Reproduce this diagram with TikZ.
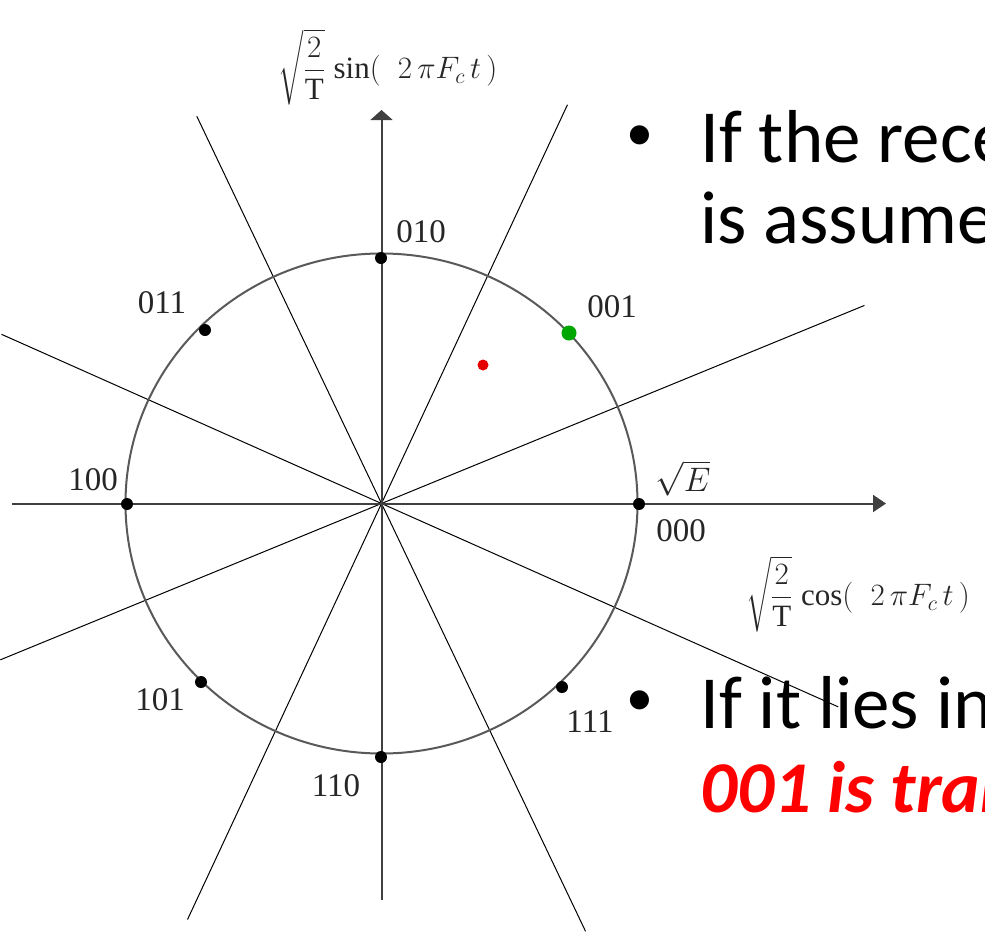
\RequirePackage{fix-cm}
\documentclass[tikz,border=0pt]{standalone}
\usepackage{fontspec}
\setmainfont{Carlito}
\newfontfamily\tnr{Liberation Serif}
\usepackage{amsmath}
\usetikzlibrary{positioning}
\usetikzlibrary{arrows.meta}

\tikzset{
    sym/.style={circle, fill=black, inner sep=0pt, minimum size=12pt},
    lbl/.style={font=\tnr\fontsize{33}{38}\selectfont, text=black!85, inner sep=0pt},
    bnd/.style={line width=1pt},
    axis/.style={line width=2pt, draw=black!75},
    bul/.style={font=\fontsize{75}{80}\selectfont, anchor=base west, inner sep=0pt},
    dotb/.style={font=\fontsize{54}{60}\selectfont, inner sep=0pt},
}

\begin{document}
\begin{tikzpicture}[x=1pt, y=-1pt]
    \useasboundingbox (0,0) rectangle (985,945);
    \clip (0,0) rectangle (985,945);

    \coordinate (o) at (381.5,503.5);

    % decision boundaries
    \path (o) ++(-65:440) coordinate (b1a)  (o) ++(115:459) coordinate (b1b);
    \path (o) ++(-115.5:429) coordinate (b2a)  (o) ++(64.5:474) coordinate (b2b);
    \path (o) ++(-22.3:522) coordinate (b3a)  (o) ++(157.7:412) coordinate (b3b);
    \path (o) ++(-156:416) coordinate (b4a)  (o) ++(24:500) coordinate (b4b);
    \draw[bnd] (b1a) -- (b1b);
    \draw[bnd] (b2a) -- (b2b);
    \draw[bnd] (b3a) -- (b3b);
    \draw[bnd] (b4a) -- (b4b);

    % axes
    \coordinate (xl) at (12,503.5);
    \coordinate (xr) at (886,503.5);
    \coordinate (yb) at (381.5,900);
    \coordinate (yt) at (381.5,110);
    \draw[axis, -{Triangle[length=13pt,width=17pt]}] (xl) -- (xr);
    \draw[axis, -{Triangle[length=10pt,width=22pt]}] (yb) -- (yt);
    \draw[line width=2pt, black!65] (o) ellipse [x radius=256pt, y radius=250pt];

    % signal points
    \node[sym] (s000) at (639,504) {};
    \node[sym] (s010) at (381,258) {};
    \node[sym] (s011) at (205,330) {};
    \node[sym] (s100) at (127,504) {};
    \node[sym] (s101) at (201,682) {};
    \node[sym] (s110) at (381,757) {};
    \node[sym] (s111) at (562,687) {};
    \node[sym, fill=green!65!black, minimum size=15pt] (s001) at (569,333) {};
    \node[sym, fill=red!90!black, minimum size=11pt] (rx) at (483,365) {};

    \node[lbl] (l010) at (421,232) {010};
    \node[lbl] (l011) at (162,303) {011};
    \node[lbl] (l001) at (612,307) {001};
    \node[lbl] (l100) at (93,480) {100};
    \node[lbl] (l000) at (681,531) {000};
    \node[lbl] (l101) at (160,700) {101};
    \node[lbl] (l111) at (590,722) {111};
    \node[lbl] (l110) at (336,786) {110};
    \node[lbl, font=\fontsize{34}{38}\selectfont] (le) at (683,478) {$\sqrt{E}$};

    \node[lbl, font=\fontsize{31}{36}\selectfont] (ysig) at (388,67)
        {$\sqrt{\dfrac{2}{\text{\tnr T}}}\;\text{\tnr sin}(\;\;2\,\pi F_c\, t\,)$};
    \node[lbl, font=\fontsize{31}{36}\selectfont] (xsig) at (858,594)
        {$\sqrt{\dfrac{2}{\text{\tnr T}}}\;\text{\tnr cos}(\;\;2\,\pi F_c\, t\,)$};

    % slide text
    \node[dotb] (d1) at (640,138) {•};
    \node[bul] (t1) at (700,162) {If the received};
    \node[bul] (t2) at (700,243) {is assumed};
    \node[dotb] (d2) at (640,703) {•};
    \node[bul] (t3) at (700,728) {If it lies in};
    \node[bul, text=red, font=\bfseries\itshape\fontsize{73}{80}\selectfont] (t4) at (700,812) {001 is tran};
\end{tikzpicture}
\end{document}
